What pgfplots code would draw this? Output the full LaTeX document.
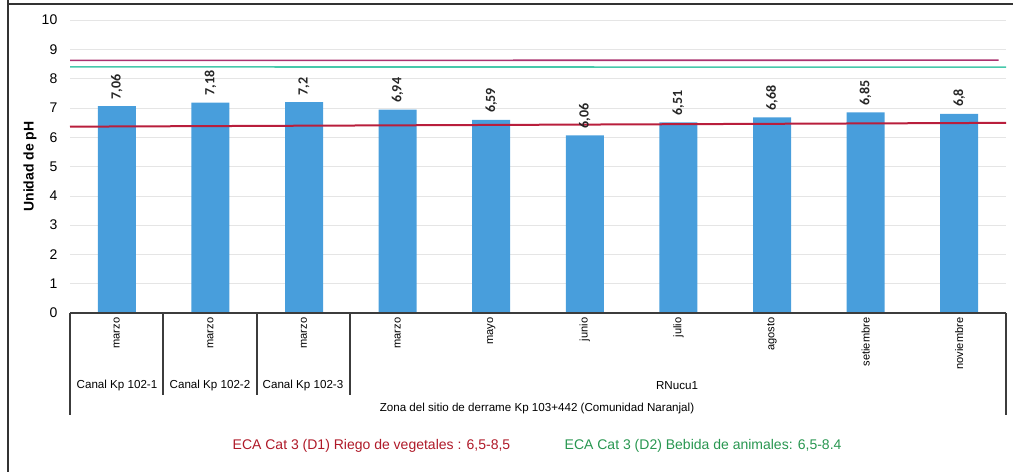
\documentclass[border=0pt]{standalone}
\usepackage{fontspec}
\setmainfont{Liberation Sans}
\newfontfamily\calib{Carlito}
\usepackage{pgfplots}
\pgfplotsset{compat=1.18}
\definecolor{barblue}{RGB}{72,158,220}
\definecolor{limred}{RGB}{185,30,60}
\definecolor{limmag}{RGB}{170,50,110}
\definecolor{limcyan}{RGB}{70,200,170}
\definecolor{txtred}{RGB}{175,25,40}
\definecolor{txtgreen}{RGB}{40,150,80}
\definecolor{axgray}{RGB}{60,60,60}
\begin{document}
\begin{tikzpicture}
\useasboundingbox (0,0) rectangle (764.25pt,-354pt);
\begin{axis}[
  at={(52.5pt,-234.75pt)}, anchor=south west,
  scale only axis, width=702pt, height=219.75pt,
  xmin=-0.5, xmax=9.5, ymin=0, ymax=10,
  ytick={0,...,10}, xtick={0,...,9},
  xticklabels={marzo,marzo,marzo,marzo,mayo,junio,julio,agosto,setiembre,noviembre},
  xticklabel style={rotate=90, anchor=east, font=\fontsize{8.3}{10}\selectfont},
  yticklabel style={font=\fontsize{10.5}{12}\selectfont, xshift=-6pt},
  /pgf/number format/assume math mode=true,
  /pgf/number format/use comma,
  axis line style={draw=none},
  major tick length=0pt,
  ymajorgrids, grid style={black!10, line width=0.4pt},
  ylabel={\bfseries Unidad de pH},
  ylabel style={at={(axis description cs:-0.0427,0.5)}, anchor=center, font=\fontsize{10.5}{12}\selectfont},
  clip=false,
]
\addplot[ybar, bar width=28.5pt, fill=barblue, draw=none,
  nodes near coords,
  every node near coord/.style={rotate=90, anchor=west, font=\calib\bfseries\fontsize{10.5}{12}\selectfont, inner xsep=5pt, text=black!85}]
  coordinates {(0,7.06) (1,7.18) (2,7.2) (3,6.94) (4,6.59) (5,6.06) (6,6.51) (7,6.68) (8,6.85) (9,6.8)};
\addplot[limred, line width=1.5pt] coordinates {(-0.5,6.36) (9.5,6.49)};
\addplot[limmag, line width=1.2pt] coordinates {(-0.5,8.62) (9.42,8.63)};
\addplot[limcyan, line width=1.2pt] coordinates {(-0.5,8.4) (9.5,8.39)};
\end{axis}
\begin{scope}[x=0.75pt,y=-0.75pt]
\draw[axgray, line width=1pt] (70,313) -- (1006,313);
\draw[axgray, line width=0.8pt] (70,313)--(70,415) (1006,313)--(1006,415);
\foreach \x in {163,257,350} \draw[axgray,line width=0.8pt] (\x,313)--(\x,395);
\begin{scope}[every node/.style={font=\fontsize{8.7}{10}\selectfont}]
\node at (117,385) {Canal Kp 102-1};
\node at (210,385) {Canal Kp 102-2};
\node at (303,385) {Canal Kp 102-3};
\node at (677,386) {RNucu1};
\node at (537,408) {Zona del sitio de derrame Kp 103+442 (Comunidad Naranjal)};
\end{scope}
\node[txtred, anchor=west, font=\fontsize{10.5}{12}\selectfont] at (228,446) {ECA Cat 3 (D1) Riego de vegetales : 6,5-8,5};
\node[txtgreen, anchor=west, font=\fontsize{10.5}{12}\selectfont] at (560,446) {ECA Cat 3 (D2) Bebida de animales: 6,5-8.4};
\draw[black!80, line width=1.8pt] (8,0)--(8,472);
\draw[black!80, line width=1.5pt] (8,4)--(1013,4);
\end{scope}
\end{tikzpicture}
\end{document}
